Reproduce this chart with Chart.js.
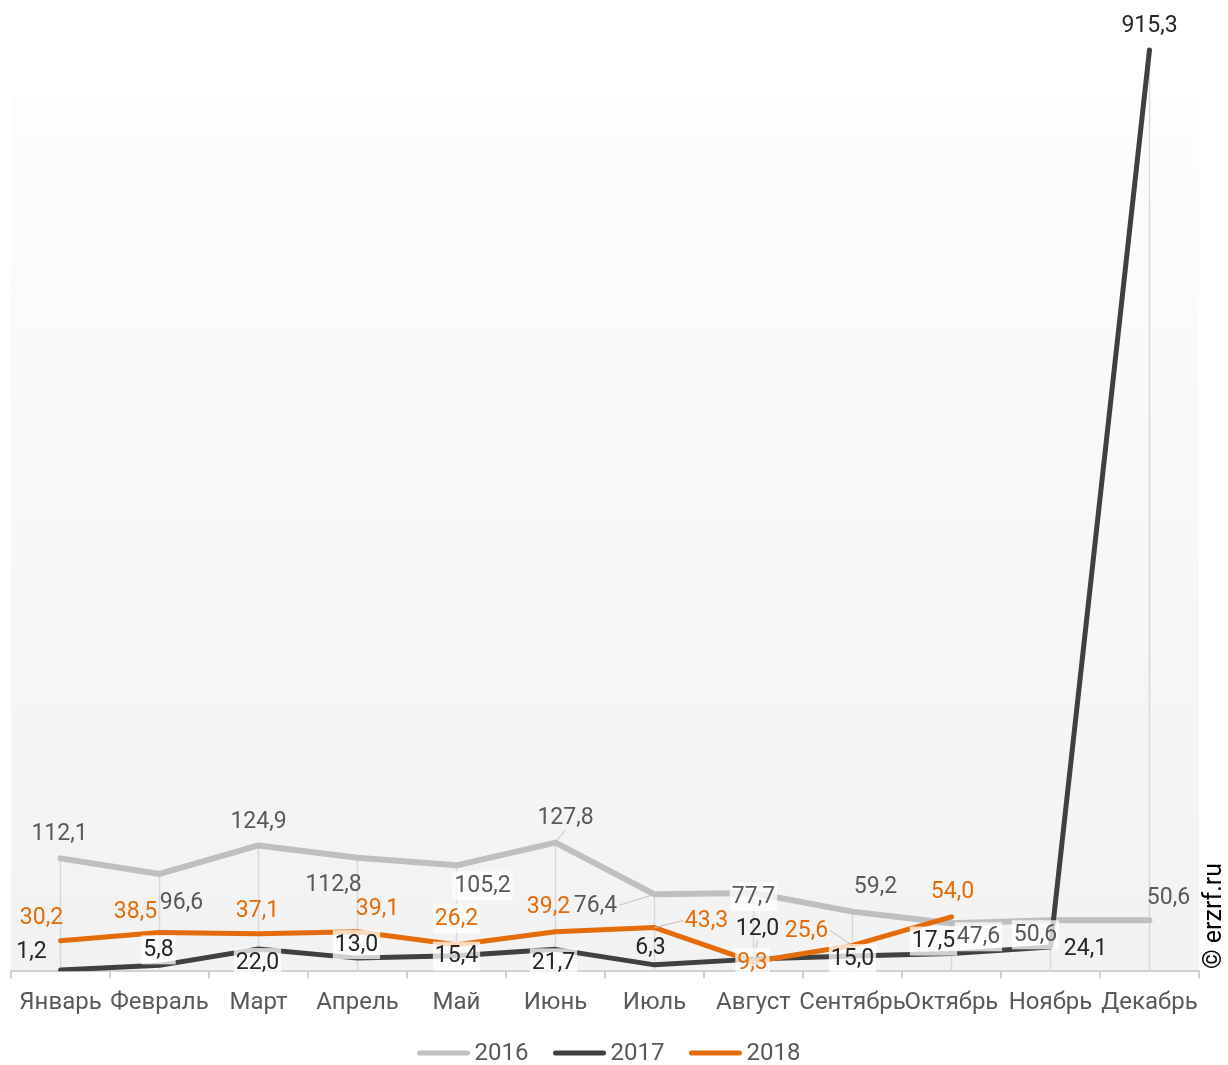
<!DOCTYPE html>
<html>
<head>
<meta charset="utf-8">
<script src="https://cdn.jsdelivr.net/npm/chart.js@4.4.1/dist/chart.umd.min.js"></script>
<style>
html,body{margin:0;padding:0;background:#fff;}
#wrap{width:1228px;height:1065px;position:relative;}
</style>
</head>
<body>
<div id="wrap"><canvas id="chart"></canvas></div>
<script>
// data
const months = ["Январь","Февраль","Март","Апрель","Май","Июнь","Июль","Август","Сентябрь","Октябрь","Ноябрь","Декабрь"];
const years = ["2016","2017","2018"];
const values2016 = [112.1, 96.6, 124.9, 112.8, 105.2, 127.8, 76.4, 77.7, 59.2, 47.6, 50.6, 50.6];
const values2017 = [1.2, 5.8, 22.0, 13.0, 15.4, 21.7, 6.3, 12.0, 15.0, 17.5, 24.1, 915.3];
const values2018 = [30.2, 38.5, 37.1, 39.1, 26.2, 39.2, 43.3, 9.3, 25.6, 54.0, null, null];
const colors = ["#bfbfbf", "#404040", "#e46c0a"];

/* label placement: [dx, dy, box, leader] relative to point */
const labels2016 = [[-1,-25],[22,28],[0,-24],[-24,27],[26,20,1],[10,-25,0,1],[-59,11,0,1],[0,3,1],[23,-25],[27,13,1],[-15,14,1],[19,-23]];
const labels2017 = [[-29,-19],[-1,-16,1],[-1,13,1],[-1,-14,1],[0,0,1],[-2,13,1],[-4,-18],[4,-31,0,1],[0,2,1],[-18,-13,1],[35,1],[0,-25]];
const labels2018 = [[-19,-24],[-24,-21],[-1,-24],[20,-24],[0,-27,1],[-7,-25],[52,-7,0,1],[-1,0,1],[-46,-15,0,1],[1,-26]];

const FONT = "Roboto";

const plotBg = {
  id: "plotBg",
  beforeDraw(chart) {
    const {ctx, chartArea} = chart;
    const top = 96;
    const g = ctx.createLinearGradient(0, top, 0, chartArea.bottom);
    g.addColorStop(0, "#fdfdfd");
    g.addColorStop(1, "#f2f2f2");
    ctx.save();
    ctx.fillStyle = g;
    ctx.fillRect(chartArea.left, top, chartArea.right - chartArea.left, chartArea.bottom - top);
    ctx.restore();
  }
};

/* drop lines from highest point to axis */
const dropLines = {
  id: "dropLines",
  beforeDatasetsDraw(chart) {
    const {ctx, chartArea, scales} = chart;
    ctx.save();
    ctx.strokeStyle = "#d9d9d9";
    ctx.lineWidth = 1.5;
    months.forEach((m, i) => {
      const vals = [values2016[i], values2017[i], values2018[i]].filter(v => v !== null);
      const top = Math.max(...vals);
      const x = scales.x.getPixelForValue(i);
      ctx.beginPath();
      ctx.moveTo(x, scales.y.getPixelForValue(top));
      ctx.lineTo(x, chartArea.bottom);
      ctx.stroke();
    });
    ctx.restore();
  }
};

const fmt = v => v.toFixed(1).replace(".", ",");

const pointLabels = {
  id: "pointLabels",
  afterDatasetsDraw(chart) {
    const {ctx} = chart;
    const sets = [[0, labels2016, "#595959"], [1, labels2017, "#262626"], [2, labels2018, "#e46c0a"]];
    ctx.save();
    ctx.font = "23px " + FONT;
    ctx.textAlign = "center";
    ctx.textBaseline = "middle";
    sets.forEach(([di, place, color]) => {
      const meta = chart.getDatasetMeta(di);
      const data = chart.data.datasets[di].data;
      meta.data.forEach((pt, i) => {
        if (data[i] === null || !place[i]) return;
        const [dx, dy, box, leader] = place[i];
        const txt = fmt(data[i]);
        const x = pt.x + dx, y = pt.y + dy;
        const w = ctx.measureText(txt).width;
        if (leader) {
          ctx.strokeStyle = "#bfbfbf";
          ctx.lineWidth = 1;
          const ex = dx > 20 ? x - w / 2 - 2 : (dx < -20 ? x + w / 2 + 2 : x);
          const ey = Math.abs(dx) > 20 ? y : (dy < 0 ? y + 12 : y - 12);
          ctx.beginPath();
          ctx.moveTo(ex, ey);
          ctx.lineTo(pt.x, pt.y);
          ctx.stroke();
        }
        if (box) {
          ctx.fillStyle = "rgba(255,255,255,0.75)";
          ctx.fillRect(x - w / 2 - 2, y - 14, w + 4, 29);
        }
        ctx.fillStyle = color;
        ctx.fillText(txt, x, y + 1);
      });
    });
    ctx.restore();
  }
};

/* legend and copyright drawn by hand */
const extras = {
  id: "extras",
  afterDraw(chart) {
    const {ctx} = chart;
    ctx.save();
    ctx.font = "24px " + FONT;
    ctx.textBaseline = "middle";
    const lineW = 52, gap = 5, spacing = 25, y = 1053;
    const widths = years.map(t => ctx.measureText(t).width);
    let total = 0;
    widths.forEach((w, i) => { total += lineW + gap + w + (i < years.length - 1 ? spacing : 0); });
    let x = 609 - total / 2;
    years.forEach((t, i) => {
      ctx.strokeStyle = colors[i];
      ctx.lineWidth = 5;
      ctx.lineCap = "round";
      ctx.beginPath();
      ctx.moveTo(x + 2, y);
      ctx.lineTo(x + lineW - 2, y);
      ctx.stroke();
      ctx.fillStyle = "#595959";
      ctx.textAlign = "left";
      ctx.fillText(t, x + lineW + gap, y + 1);
      x += lineW + gap + widths[i] + spacing;
    });

    ctx.translate(1215, 916);
    ctx.rotate(-Math.PI / 2);
    ctx.font = "25px " + FONT;
    ctx.fillStyle = "#000";
    ctx.textAlign = "center";
    ctx.fillText("© erzrf.ru", 0, 0);
    ctx.restore();
  }
};

new Chart(document.getElementById("chart"), {
  type: "line",
  data: {
    labels: months,
    datasets: [
      {label: years[0], data: values2016, borderColor: colors[0], borderWidth: 6, order: 3},
      {label: years[1], data: values2017, borderColor: colors[1], borderWidth: 5, order: 2},
      {label: years[2], data: values2018, borderColor: colors[2], borderWidth: 5, order: 1}
    ]
  },
  options: {
    responsive: true,
    maintainAspectRatio: false,
    animation: false,
    elements: {
      point: {radius: 0, hoverRadius: 0},
      line: {tension: 0, borderCapStyle: "round", borderJoinStyle: "round"}
    },
    layout: {padding: {left: 11, right: 29, top: 20, bottom: 38}},
    plugins: {
      legend: {display: false},
      tooltip: {enabled: false}
    },
    scales: {
      x: {
        offset: true,
        grid: {offset: true, drawOnChartArea: false, drawTicks: true, tickLength: 7, color: "#d0d0d0", lineWidth: 2},
        border: {display: true, color: "#d0d0d0", width: 2},
        ticks: {color: "#595959", font: {family: FONT, size: 24}, padding: 10, maxRotation: 0, autoSkip: false}
      },
      y: {
        display: false,
        min: 0,
        max: 945
      }
    }
  },
  plugins: [plotBg, dropLines, pointLabels, extras]
});
</script>
</body>
</html>
